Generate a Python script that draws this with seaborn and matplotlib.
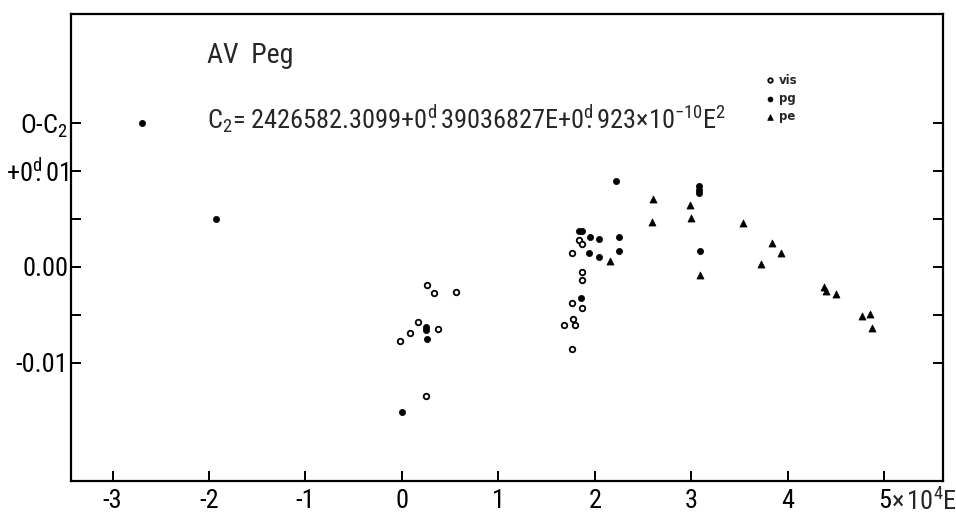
import matplotlib
matplotlib.use("Agg")
import matplotlib.pyplot as plt
from matplotlib import font_manager
import seaborn as sns
import pandas as pd

# ---- data ----
vis_x = [0.256, 0.335, 0.563, 0.166, 0.083, -0.017, 0.37, 0.249,
         1.836, 1.87, 1.767, 1.864, 1.864, 1.763, 1.864, 1.774, 1.677, 1.795, 1.767]
vis_y = [-0.0019, -0.0027, -0.0026, -0.0057, -0.0069, -0.0077, -0.0065, -0.0134,
         0.0028, 0.0024, 0.0014, -0.0005, -0.0014, -0.0038, -0.0043, -0.0054, -0.0060, -0.0061, -0.0086]

pg_x = [-2.69, -1.93, 0.249, 0.249, 0.259, 0.003, 2.223, 1.833, 1.864, 1.947, 2.04,
        2.248, 1.94, 2.044, 2.248, 1.853, 3.08, 3.08, 3.085, 3.09]
pg_y = [0.0150, 0.0050, -0.0063, -0.0066, -0.0075, -0.0151, 0.0089, 0.0037, 0.0037, 0.0031, 0.0029,
        0.0031, 0.0015, 0.0010, 0.0017, -0.0032, 0.0084, 0.0080, 0.0077, 0.0017]

pe_x = [2.60, 2.593, 2.161, 2.988, 2.995, 3.54, 3.088, 3.838, 3.935, 3.724,
        4.38, 4.40, 4.505, 4.775, 4.855, 4.872]
pe_y = [0.0071, 0.0047, 0.0006, 0.0064, 0.0051, 0.0046, -0.0008, 0.0025, 0.0015, 0.0003,
        -0.0021, -0.0025, -0.0028, -0.0051, -0.0049, -0.0064]

x_ticks = [-3, -2, -1, 0, 1, 2, 3, 4, 5]
x_tick_labels = ["-3", "-2", "-1", "0", "1", "2", "3", "4", "5"]
y_ticks = [-0.01, -0.005, 0.0, 0.005, 0.01, 0.015]
y_tick_labels = ["-0.01", "", "0.00", "", r"+$\mathregular{0^{d}\hspace{-0.4}.01}$", r"O-C$_\mathregular{2}$"]

title_text = "AV  Peg"
eq_text = (r"C$_\mathregular{2}$= 2426582.3099+$\mathregular{0^{d}\hspace{-0.4}.39036827E}$"
           r"+$\mathregular{0^{d}\hspace{-0.4}.923{\times}10^{-10}E^{2}}$")
x_unit_text = r"$\mathregular{{\times}\,10^{4}E}$"

# ---- font choice: a narrow sans if available ----
sns.set_style("ticks")
names = {f.name for f in font_manager.fontManager.ttflist}
narrow = None
for cand in ["Liberation Sans Narrow", "DejaVu Sans Condensed", "Roboto Condensed", "Open Sans Condensed"]:
    if cand in names:
        narrow = cand
        break
fam = [narrow, "DejaVu Sans"] if narrow else ["DejaVu Sans"]
plt.rcParams["font.family"] = fam
plt.rcParams["mathtext.fontset"] = "custom"
plt.rcParams["mathtext.rm"] = fam[0]
plt.rcParams["mathtext.it"] = fam[0]
plt.rcParams["mathtext.bf"] = fam[0]
scale = 1.0 if narrow else 0.85

fig = plt.figure(figsize=(9.56, 5.17), dpi=100)
ax = fig.add_axes([0.0743, 0.0696, 0.9121, 0.9034])

df_vis = pd.DataFrame({"E": vis_x, "OC": vis_y})
df_pg = pd.DataFrame({"E": pg_x, "OC": pg_y})
df_pe = pd.DataFrame({"E": pe_x, "OC": pe_y})

sns.scatterplot(data=df_vis, x="E", y="OC", ax=ax, marker="o", s=16,
                facecolor="white", edgecolor="black", linewidth=1.3, label="vis")
sns.scatterplot(data=df_pg, x="E", y="OC", ax=ax, marker="o", s=20,
                color="black", edgecolor="black", linewidth=0.5, label="pg")
sns.scatterplot(data=df_pe, x="E", y="OC", ax=ax, marker="^", s=26,
                color="black", edgecolor="black", linewidth=0.5, label="pe")

ax.set_xlim(-3.43, 5.61)
ax.set_ylim(-0.0223, 0.02635)
ax.set_xticks(x_ticks)
ax.set_xticklabels(x_tick_labels)
ax.set_yticks(y_ticks)
ax.set_yticklabels(y_tick_labels)
ax.set_xlabel("")
ax.set_ylabel("")

for sp in ax.spines.values():
    sp.set_linewidth(1.6)
    sp.set_color("black")

fs = 19 * scale
ax.tick_params(axis="both", direction="in", length=7, width=1.4, labelsize=fs,
               colors="black")
ax.tick_params(axis="y", right=True, left=True, pad=2)
ax.tick_params(axis="x", top=False, pad=6)

ax.annotate(x_unit_text, xy=(5, 0), xycoords=("data", "axes fraction"),
            xytext=(5, -5), textcoords="offset points", ha="left", va="top", fontsize=fs)

ax.text(0.156, 0.912, title_text, transform=ax.transAxes, fontsize=20 * scale,
        ha="left", va="center")
ax.text(0.156, 0.773, eq_text, transform=ax.transAxes, fontsize=fs,
        ha="left", va="center")

leg = ax.legend(loc="upper left", bbox_to_anchor=(0.787, 0.885), frameon=False,
                handletextpad=0.1, labelspacing=0.45, borderpad=0,
                handlelength=1.2, markerscale=0.8,
                prop={"family": "DejaVu Sans", "weight": "bold", "size": 8.5})

fig.savefig("out.png", dpi=100, facecolor="white")
